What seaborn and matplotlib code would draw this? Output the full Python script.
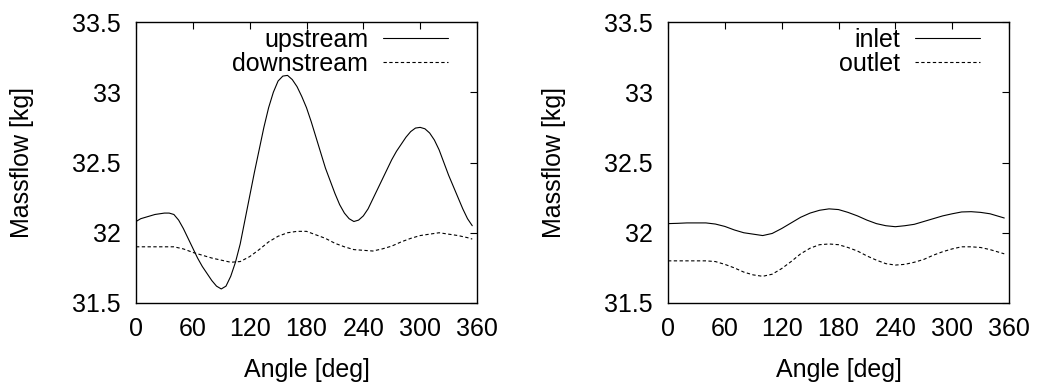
import numpy as np
import pandas as pd
import matplotlib
matplotlib.use("Agg")
import matplotlib.pyplot as plt
import seaborn as sns
from matplotlib.ticker import FuncFormatter
from matplotlib.lines import Line2D

# ---------------- data ----------------
angle_up = [0, 5, 10, 15, 20, 25, 30, 35, 40, 45, 50, 55, 60, 65, 70, 75, 80, 85, 90, 95,
            100, 105, 110, 115, 120, 125, 130, 135, 140, 145, 150, 155, 160, 165, 170, 175,
            180, 185, 190, 195, 200, 205, 210, 215, 220, 225, 230, 235, 240, 245, 250, 255,
            260, 265, 270, 275, 280, 285, 290, 295, 300, 305, 310, 315, 320, 325, 330, 335,
            340, 345, 350, 355]

upstream = [32.08, 32.10, 32.11, 32.12, 32.13, 32.135, 32.14, 32.14, 32.13, 32.09, 32.03,
            31.96, 31.89, 31.82, 31.76, 31.71, 31.66, 31.62, 31.60, 31.62, 31.69, 31.79,
            31.92, 32.09, 32.26, 32.43, 32.59, 32.75, 32.89, 33.00, 33.08, 33.115, 33.12,
            33.09, 33.04, 32.97, 32.89, 32.79, 32.68, 32.57, 32.46, 32.37, 32.28, 32.20,
            32.14, 32.10, 32.08, 32.09, 32.12, 32.17, 32.24, 32.31, 32.38, 32.45, 32.52,
            32.58, 32.63, 32.68, 32.72, 32.745, 32.75, 32.74, 32.71, 32.66, 32.59, 32.50,
            32.41, 32.33, 32.25, 32.17, 32.10, 32.05]

angle = [0, 10, 20, 30, 40, 50, 60, 70, 80, 90, 100, 110, 120, 130, 140, 150, 160, 170,
         180, 190, 200, 210, 220, 230, 240, 250, 260, 270, 280, 290, 300, 310, 320, 330,
         340, 350, 355]

downstream = [31.90, 31.90, 31.90, 31.90, 31.90, 31.885, 31.86, 31.84, 31.82, 31.805, 31.79,
              31.795, 31.83, 31.88, 31.935, 31.975, 32.00, 32.01, 32.01, 31.985, 31.96,
              31.925, 31.90, 31.88, 31.875, 31.87, 31.885, 31.905, 31.935, 31.96, 31.98,
              31.99, 32.00, 31.99, 31.98, 31.965, 31.955]

inlet = [32.065, 32.067, 32.07, 32.07, 32.07, 32.062, 32.045, 32.02, 32.00, 31.99, 31.98,
         31.995, 32.03, 32.07, 32.11, 32.14, 32.16, 32.17, 32.165, 32.145, 32.12, 32.09,
         32.065, 32.05, 32.043, 32.05, 32.06, 32.08, 32.10, 32.12, 32.135, 32.148, 32.15,
         32.145, 32.135, 32.115, 32.105]

outlet = [31.80, 31.80, 31.80, 31.80, 31.80, 31.795, 31.775, 31.75, 31.72, 31.70, 31.69,
          31.705, 31.745, 31.795, 31.85, 31.89, 31.915, 31.92, 31.915, 31.895, 31.87,
          31.835, 31.805, 31.78, 31.77, 31.775, 31.79, 31.81, 31.84, 31.865, 31.885, 31.90,
          31.90, 31.895, 31.88, 31.86, 31.85]

x_ticks = [0, 60, 120, 180, 240, 300, 360]
y_ticks = [31.5, 32.0, 32.5, 33.0, 33.5]
x_label = "Angle [deg]"
y_label = "Massflow [kg]"

# ---------------- style ----------------
sns.set_style("white")
plt.rcParams["font.family"] = ["Liberation Sans", "DejaVu Sans"]
plt.rcParams["font.size"] = 18
plt.rcParams["text.color"] = "black"
plt.rcParams["axes.labelcolor"] = "black"
plt.rcParams["xtick.color"] = "black"
plt.rcParams["ytick.color"] = "black"

fig = plt.figure(figsize=(10.37, 3.83), dpi=100)
W, H = 1037, 383
ax_l = fig.add_axes([136 / W, (H - 303) / H, 341 / W, 281 / H])
ax_r = fig.add_axes([668 / W, (H - 303) / H, 341 / W, 281 / H])

panels = [
    (ax_l, ("upstream", angle_up, upstream), ("downstream", angle, downstream)),
    (ax_r, ("inlet", angle, inlet), ("outlet", angle, outlet)),
]

dash = (3, 2.2)
for ax, (n1, a1, v1), (n2, a2, v2) in panels:
    df = pd.DataFrame({"angle": list(a1) + list(a2),
                       "value": list(v1) + list(v2),
                       "series": [n1] * len(a1) + [n2] * len(a2)})
    sns.lineplot(data=df, x="angle", y="value", hue="series", style="series",
                 palette={n1: "black", n2: "black"},
                 dashes={n1: "", n2: dash}, linewidth=0.8, ax=ax, legend=False)
    ax.set_xlim(0, 360)
    ax.set_ylim(31.5, 33.5)
    ax.set_xticks(x_ticks)
    ax.set_yticks(y_ticks)
    ax.yaxis.set_major_formatter(FuncFormatter(lambda v, p: f"{v:g}"))
    ax.tick_params(direction="in", length=5, width=0.8, top=True, right=True,
                   labelsize=18, colors="black", labelcolor="black")
    ax.tick_params(axis="x", pad=10)
    ax.tick_params(axis="y", pad=11)
    for s in ax.spines.values():
        s.set_visible(True)
        s.set_color("black")
        s.set_linewidth(1.0)
    ax.set_xlabel(x_label, fontsize=18, color="black")
    ax.set_ylabel(y_label, fontsize=18, color="black")
    ax.xaxis.set_label_coords(0.5, -0.195)
    ax.yaxis.set_label_coords(-0.30, 0.5)

    handles = [Line2D([], [], color="black", lw=0.8),
               Line2D([], [], color="black", lw=0.8, dashes=dash)]
    leg = ax.legend(handles, [n1, n2], loc="upper right", bbox_to_anchor=(0.915, 0.98),
                    frameon=False, markerfirst=False, handlelength=2.6, handletextpad=0.6,
                    labelspacing=0.0, borderaxespad=0, borderpad=0, fontsize=18)
    for t in leg.get_texts():
        t.set_color("black")

fig.savefig("out.png", dpi=100)
